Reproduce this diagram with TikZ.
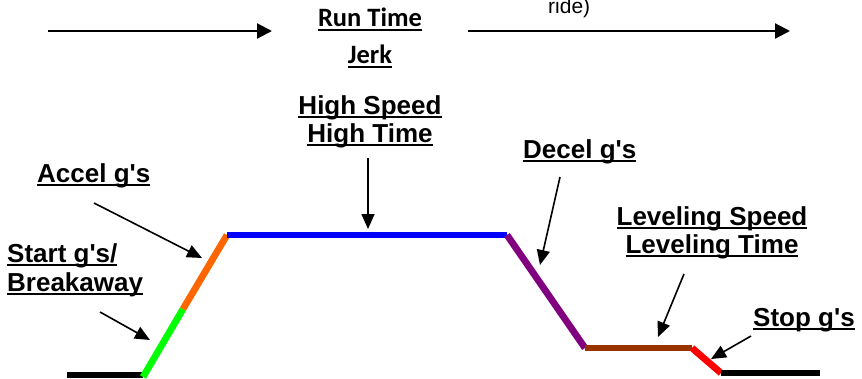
\documentclass[tikz,border=0pt]{standalone}
\usepackage{fontspec}
\setmainfont{Liberation Sans}
\newfontfamily\calibfont{Carlito}
\usetikzlibrary{arrows.meta}

% underline at a fixed depth below the baseline, as a word processor draws it
\newsavebox\ulbox
\newcommand\ultext[1]{\sbox\ulbox{#1}\rlap{\rule[-0.17em]{\wd\ulbox}{0.075em}}\usebox\ulbox}
% straight apostrophe
\newcommand\ap{\textquotesingle}

\definecolor{segGreen}{HTML}{00FF00}
\definecolor{segOrange}{HTML}{FF6600}
\definecolor{segBlue}{HTML}{0000FF}
\definecolor{segPurple}{HTML}{800080}
\definecolor{segBrown}{HTML}{993300}
\definecolor{segRed}{HTML}{FF0000}

\tikzset{
  label/.style={inner sep=0pt, font=\fontsize{26}{29}\selectfont\bfseries},
  toplabel/.style={inner sep=0pt, font=\calibfont\fontsize{26.5}{30}\selectfont\bfseries},
  segment/.style={line width=6.8pt, line cap=butt},
  pointer/.style={line width=1.6pt, -{Triangle[length=15pt,width=13pt]}},
  flow/.style={line width=2.2pt, -{Triangle[length=15pt,width=15pt]}}
}

\begin{document}
\begin{tikzpicture}[x=1pt,y=-1pt]
\path[use as bounding box, clip] (0,0) rectangle (862,378);

% ---- top row: run time / jerk between two flow arrows
\coordinate (f1a) at (48,31);
\coordinate (f1b) at (272,31);
\coordinate (f2a) at (468,31);
\coordinate (f2b) at (790,31);
\draw[flow] (f1a) -- (f1b);
\draw[flow] (f2a) -- (f2b);
\node[toplabel, anchor=base] (runtime) at (370,26) {\ultext{Run Time}};
\node[toplabel, anchor=base] (jerk) at (370,63) {\ultext{Jerk}};
\node[inner sep=0pt, anchor=base west, font=\fontsize{21}{24}\selectfont] (ride) at (548,13) {ride)};

% ---- speed profile
\coordinate (p0) at (67,375);
\coordinate (p1) at (143,375);
\coordinate (p1b) at (143,377);
\coordinate (p2) at (183,309);
\coordinate (p3) at (227,235);
\coordinate (p4) at (507,235);
\coordinate (p5) at (585,348);
\coordinate (p6) at (692,348);
\coordinate (p7) at (721,373);
\coordinate (p8) at (820,373);

\draw[segment, black] (p0) -- (p1);
\draw[segment, segGreen] (p1b) -- (p2);
\draw[segment, segOrange] (p2) -- (p3);
\draw[segment, segBlue] (p3) -- (p4);
\draw[segment, segPurple] (p4) -- (p5);
\draw[segment, segBrown] (p5) -- (p6);
\draw[segment, segRed] (p6) -- (p7);
\draw[segment, black] (p7) -- (p8);

% ---- labels
\node[label, anchor=base] (hs1) at (370,114) {\ultext{High Speed}};
\node[label, anchor=base] (hs2) at (370,142) {\ultext{High Time}};
\node[label, anchor=base west] (accel) at (37,182) {\ultext{Accel g\ap s}};
\node[label, anchor=base west] (start1) at (7,262) {\ultext{Start g\ap s/}};
\node[label, anchor=base west] (start2) at (7,291) {\ultext{Breakaway}};
\node[label, anchor=base west] (decel) at (523,158) {\ultext{Decel g\ap s}};
\node[label, anchor=base] (lev1) at (712,225) {\ultext{Leveling Speed}};
\node[label, anchor=base] (lev2) at (712,253) {\ultext{Leveling Time}};
\node[label, anchor=base west] (stop) at (753,326) {\ultext{Stop g\ap s}};

% ---- pointers from labels to the profile
\coordinate (hsT) at (368,158);   \coordinate (hsH) at (368,229);
\coordinate (acT) at (94,203);    \coordinate (acH) at (202,258);
\coordinate (stT) at (100,312);   \coordinate (stH) at (150,340);
\coordinate (deT) at (560,177);   \coordinate (deH) at (540,265);
\coordinate (lvT) at (684,274);   \coordinate (lvH) at (658,337);
\coordinate (spT) at (751,336);   \coordinate (spH) at (711,359);

\draw[pointer] (hsT) -- (hsH);
\draw[pointer] (acT) -- (acH);
\draw[pointer] (stT) -- (stH);
\draw[pointer] (deT) -- (deH);
\draw[pointer] (lvT) -- (lvH);
\draw[pointer] (spT) -- (spH);
\end{tikzpicture}
\end{document}
